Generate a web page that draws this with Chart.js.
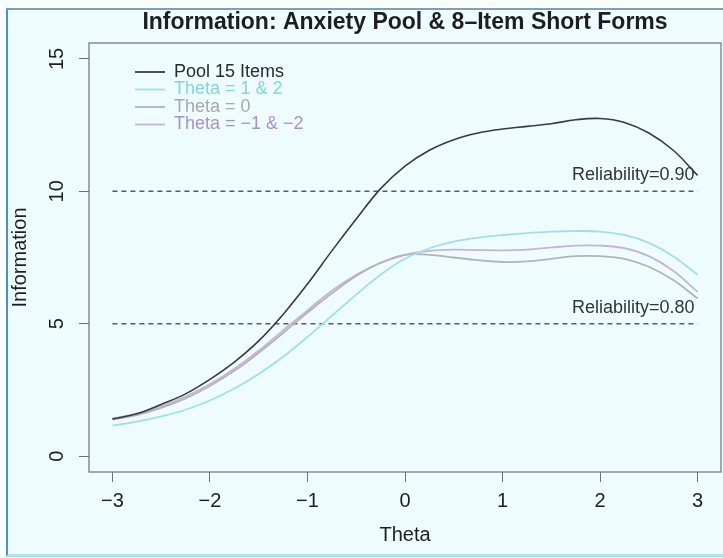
<!DOCTYPE html>
<html>
<head>
<meta charset="utf-8">
<script src="https://cdn.jsdelivr.net/npm/chart.js@4.4.0/dist/chart.umd.min.js"></script>
<style>
html, body { margin: 0; padding: 0; background: #f8fdff; }
#frame {
    position: absolute; left: 6px; top: 8px; width: 740px; height: 544px;
    border-left: 2px solid #4f8fcf; border-top: 2px solid #7f9fb8; border-bottom: 3px solid #a9e6f0;
    background: #effcfe;
}
#wrap { position: absolute; left: 0; top: 0; width: 723px; height: 558px; }
</style>
</head>
<body>
<div id="frame"></div>
<div id="wrap"><canvas id="infoChart" width="723" height="558"></canvas></div>
<script>
// Data
const thetaGrid = [-3, -2.75, -2.5, -2.25, -2, -1.75, -1.5, -1.25, -1, -0.75, -0.5, -0.25, 0,
                   0.25, 0.5, 0.75, 1, 1.25, 1.5, 1.75, 2, 2.25, 2.5, 2.75, 3];
const pool15 = [1.4, 1.6, 1.95, 2.35, 2.9, 3.55, 4.35, 5.35, 6.5, 7.75, 8.95, 10.1, 10.95,
                11.55, 11.95, 12.2, 12.35, 12.45, 12.55, 12.7, 12.75, 12.6, 12.2, 11.55, 10.6];
const theta1and2 = [1.15, 1.3, 1.5, 1.75, 2.1, 2.55, 3.1, 3.75, 4.5, 5.3, 6.1, 6.85, 7.45,
                    7.85, 8.1, 8.25, 8.35, 8.42, 8.48, 8.5, 8.48, 8.35, 8.05, 7.55, 6.85];
const theta0 = [1.38, 1.55, 1.82, 2.18, 2.65, 3.22, 3.9, 4.65, 5.42, 6.15, 6.8, 7.3, 7.6,
                7.6, 7.5, 7.4, 7.33, 7.35, 7.45, 7.55, 7.55, 7.45, 7.15, 6.65, 5.95];
const thetaNeg1and2 = [1.42, 1.6, 1.88, 2.25, 2.72, 3.3, 3.98, 4.75, 5.5, 6.25, 6.85, 7.3, 7.6,
                       7.75, 7.8, 7.78, 7.77, 7.8, 7.88, 7.95, 7.95, 7.85, 7.55, 7.0, 6.2];
const seriesLabels = ['Pool 15 Items', 'Theta = 1 & 2', 'Theta = 0', 'Theta = \u22121 & \u22122'];
const xTicks = [-3, -2, -1, 0, 1, 2, 3];
const yTicks = [0, 5, 10, 15];
const reliabilityLevels = [10, 5];
const reliabilityLabels = ['Reliability=0.90', 'Reliability=0.80'];

const FONT = "'Liberation Sans', Arial, sans-serif";
const lineColors = ['#3a3a3a', '#9fe0ea', '#b4b4b4', '#c5b3dc'];
const legendTextColors = ['#2a2a2a', '#7fd6e6', '#a8a8a8', '#a98fd6'];

const toPoints = arr => thetaGrid.map((t, i) => ({ x: t, y: arr[i] }));
const minus = v => (v < 0 ? '\u2212' + Math.abs(v) : String(v));

const curveSets = [pool15, theta1and2, theta0, thetaNeg1and2].map((arr, i) => ({
    label: seriesLabels[i],
    data: toPoints(arr),
    borderColor: lineColors[i],
    borderWidth: i === 0 ? 1.6 : 1.8,
    pointRadius: 0,
    tension: 0.4,
    fill: false
}));

const refSets = reliabilityLevels.map(lv => ({
    label: 'ref' + lv,
    data: [{ x: xTicks[0], y: lv }, { x: xTicks[xTicks.length - 1], y: lv }],
    borderColor: '#5a5a5a',
    borderWidth: 1.4,
    borderDash: [5, 4],
    pointRadius: 0,
    fill: false
}));

// Extras drawn on the canvas: title, box, rotated y labels, legend, reliability text
const extras = {
    id: 'extras',
    afterDatasetsDraw(chart) {
        const { ctx, chartArea: a, scales: { x, y } } = chart;
        ctx.save();

        // box
        ctx.strokeStyle = '#707070';
        ctx.lineWidth = 1.2;
        ctx.strokeRect(a.left, a.top, a.right - a.left, a.bottom - a.top);

        // title
        ctx.fillStyle = '#1e1e1e';
        ctx.font = 'bold 23px ' + FONT;
        ctx.textAlign = 'center';
        ctx.textBaseline = 'middle';
        ctx.fillText('Information: Anxiety Pool & 8\u2013Item Short Forms', (a.left + a.right) / 2, 23);

        // y tick labels (rotated like R)
        ctx.font = '20px ' + FONT;
        y.ticks.forEach(t => {
            ctx.save();
            ctx.translate(57, y.getPixelForValue(t.value));
            ctx.rotate(-Math.PI / 2);
            ctx.fillText(minus(t.value), 0, 0);
            ctx.restore();
        });

        // reliability labels
        ctx.font = '18px ' + FONT;
        ctx.textAlign = 'right';
        ctx.fillStyle = '#333';
        reliabilityLevels.forEach((lv, i) => {
            ctx.fillText(reliabilityLabels[i], x.getPixelForValue(3) - 3, y.getPixelForValue(lv) - 16);
        });

        // legend
        ctx.textAlign = 'left';
        curveSets.forEach((ds, i) => {
            const ly = 72 + i * 17.5;
            ctx.strokeStyle = ds.borderColor;
            ctx.lineWidth = 1.8;
            ctx.beginPath();
            ctx.moveTo(135, ly);
            ctx.lineTo(165, ly);
            ctx.stroke();
            ctx.fillStyle = legendTextColors[i];
            ctx.fillText(ds.label, 174, ly);
        });

        ctx.restore();
    }
};

const chart = new Chart(document.getElementById('infoChart'), {
    type: 'line',
    data: { datasets: [...curveSets, ...refSets] },
    options: {
        responsive: false,
        animation: false,
        layout: { padding: { top: 43, right: 2, left: 0, bottom: 0 } },
        plugins: { legend: { display: false }, tooltip: { enabled: false } },
        scales: {
            x: {
                type: 'linear',
                min: -3.24,
                max: 3.24,
                afterBuildTicks: s => { s.ticks = xTicks.map(v => ({ value: v })); },
                afterFit: s => { s.height = 86; },
                grid: { drawOnChartArea: false, drawTicks: true, tickLength: 10, color: '#707070' },
                border: { display: false },
                ticks: { color: '#1e1e1e', font: { family: FONT, size: 20 }, padding: 7, maxRotation: 0, callback: v => minus(v) },
                title: { display: true, text: 'Theta', color: '#1e1e1e', font: { family: FONT, size: 20 }, padding: { top: 0, bottom: 11 } }
            },
            y: {
                min: -0.6,
                max: 15.6,
                afterBuildTicks: s => { s.ticks = yTicks.map(v => ({ value: v })); },
                afterFit: s => { s.width = 89; },
                grid: { drawOnChartArea: false, drawTicks: true, tickLength: 10, color: '#707070' },
                border: { display: false },
                ticks: { display: false },
                title: { display: true, text: 'Information', color: '#1e1e1e', font: { family: FONT, size: 20 }, padding: { top: 8, bottom: 0 } }
            }
        }
    },
    plugins: [extras]
});
</script>
</body>
</html>
